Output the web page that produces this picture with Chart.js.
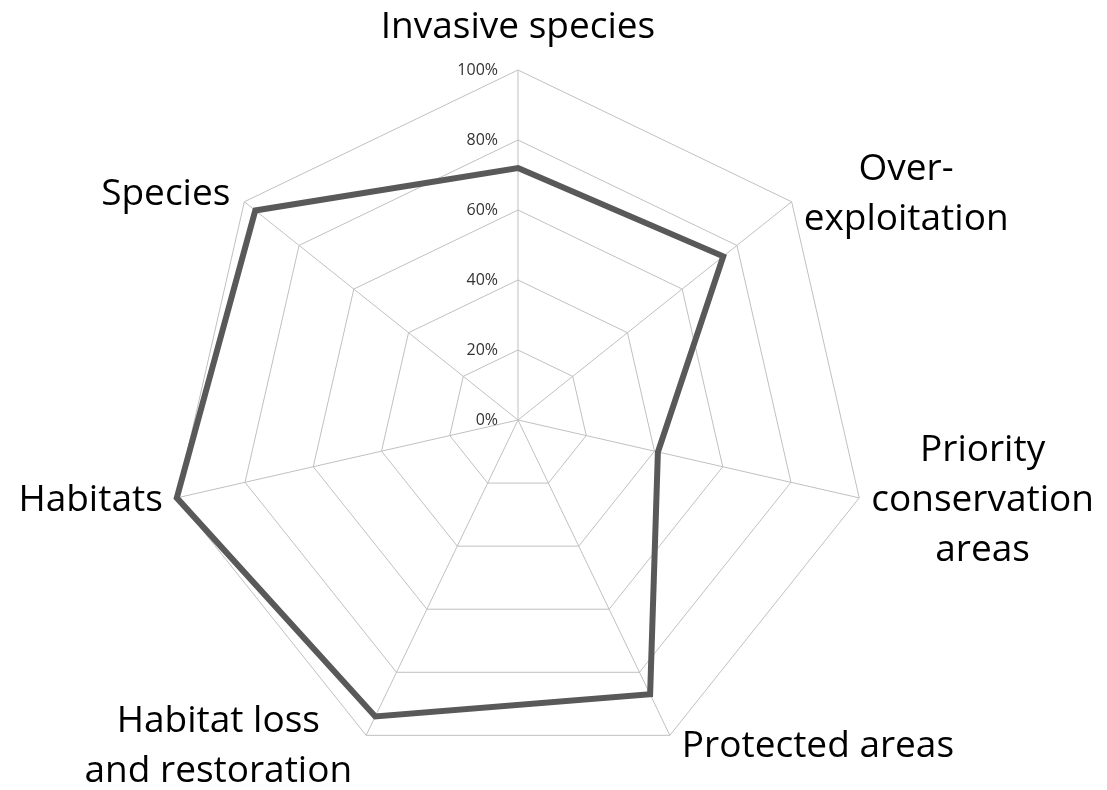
<!DOCTYPE html>
<html>
<head>
<meta charset="utf-8">
<script src="https://cdn.jsdelivr.net/npm/chart.js@4"></script>
<style>
  body { margin: 0; background: #ffffff; }
  canvas { display: block; }
</style>
</head>
<body>
<canvas id="radar" width="1107" height="790"></canvas>
<script>
// categories, clockwise from the top (arrays = line breaks)
const categories = [
  'Invasive species',
  ['Over-', 'exploitation'],
  ['Priority', 'conservation', 'areas'],
  'Protected areas',
  ['Habitat loss', 'and restoration'],
  'Habitats',
  'Species'
];
const progress = [72, 75, 41, 87, 94, 100, 96];
const tickValues = [0, 20, 40, 60, 80, 100];

const axisText = {
  id: 'axisText',
  afterDraw(chart) {
    const scale = chart.scales.r;
    const ctx = chart.ctx;
    ctx.save();

    // percent labels left of the vertical axis
    ctx.font = '16px "Open Sans"';
    ctx.fillStyle = '#333333';
    ctx.textAlign = 'right';
    ctx.textBaseline = 'middle';
    tickValues.forEach(v => {
      const y = scale.yCenter - scale.getDistanceFromCenterForValue(v);
      ctx.fillText(v + '%', scale.xCenter - 20, y);
    });

    // category labels, lines centered like Excel does
    ctx.font = '37px "Open Sans"';
    ctx.fillStyle = '#000000';
    ctx.textAlign = 'center';
    const lineH = 50;
    categories.forEach((label, i) => {
      const lines = Array.isArray(label) ? label : [label];
      const p = scale.getPointPosition(i, scale.drawingArea);
      const dx = Math.cos(p.angle), dy = Math.sin(p.angle);
      const w = Math.max(...lines.map(l => ctx.measureText(l).width));
      const h = lines.length * lineH;
      let cx, cy;
      if (Math.abs(dx) < 0.15) {
        cx = p.x;
        cy = dy < 0 ? p.y - 18 - h / 2 : p.y + 18 + h / 2;
      } else {
        cx = dx > 0 ? p.x + 12 + w / 2 : p.x - 14 - w / 2;
        cy = p.y + dy * 12;
      }
      lines.forEach((l, k) => {
        ctx.fillText(l, cx, cy - h / 2 + lineH / 2 + k * lineH);
      });
    });
    ctx.restore();
  }
};

new Chart(document.getElementById('radar'), {
  type: 'radar',
  data: {
    labels: categories,
    datasets: [{
      data: progress,
      borderColor: '#595959',
      borderWidth: 6,
      borderJoinStyle: 'miter',
      backgroundColor: 'rgba(0,0,0,0)',
      fill: false,
      pointRadius: 0,
      pointHoverRadius: 0,
      tension: 0
    }]
  },
  options: {
    responsive: false,
    animation: false,
    devicePixelRatio: 1,
    layout: {
      padding: { left: 168, right: 239, top: 70, bottom: 20 }
    },
    plugins: {
      legend: { display: false },
      tooltip: { enabled: false }
    },
    scales: {
      r: {
        min: 0,
        max: 100,
        beginAtZero: true,
        ticks: {
          display: false,
          stepSize: 20
        },
        pointLabels: { display: false },
        grid: { color: '#c0c0c0', lineWidth: 1 },
        angleLines: { color: '#c0c0c0', lineWidth: 1 }
      }
    }
  },
  plugins: [axisText]
});
</script>
</body>
</html>
